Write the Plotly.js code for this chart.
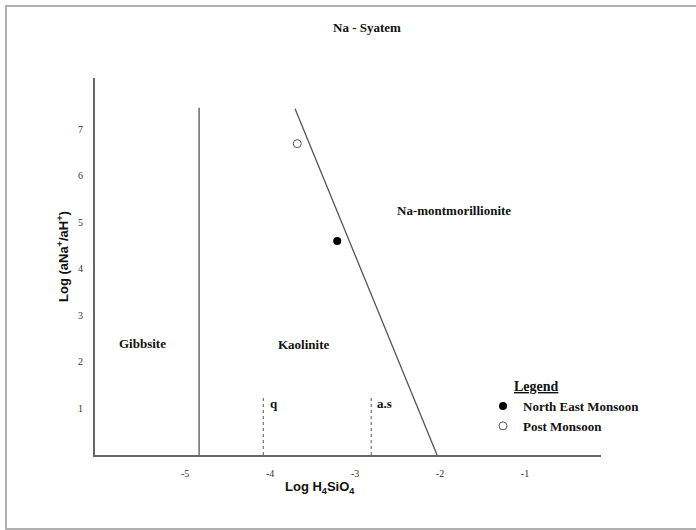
<!DOCTYPE html>
<html>
<head>
<meta charset="utf-8">
<script src="https://cdn.plot.ly/plotly-3.0.1.min.js"></script>
<style>html,body{margin:0;padding:0;background:#fff;}#chart{width:696px;height:530px;}</style>
</head>
<body>
<div id="chart"></div>
<script>
// Data
var seriesNames = ["North East Monsoon", "Post Monsoon"];
var neX = [-3.21], neY = [4.60];
var pmX = [-3.68], pmY = [6.69];
// Stability boundaries
var gibbsiteX = [-4.835, -4.835], gibbsiteY = [0, 7.46];
var montX = [-3.706, -2.035], montY = [7.44, 0];
var quartzX = [-4.08, -4.08], quartzY = [0, 1.23];
var amorphX = [-2.81, -2.81], amorphY = [0, 1.23];
var xTicks = [-5, -4, -3, -2, -1];
var yTicks = [1, 2, 3, 4, 5, 6, 7];
var fieldLabels = ["Gibbsite", "Kaolinite", "Na-montmorillionite", "q", "a.s"];
var fieldX = [-5.506, -3.6, -1.835, -4.02, -2.65];
var fieldY = [2.39, 2.37, 5.25, 1.10, 1.10];

var serif = "Liberation Serif, Times New Roman, serif";
var sans = "Liberation Sans, Arial, sans-serif";
var lineCol = "#555";

var traces = [
  {x: gibbsiteX, y: gibbsiteY, mode: "lines", line: {color: lineCol, width: 1.3}, showlegend: false, hoverinfo: "skip"},
  {x: montX, y: montY, mode: "lines", line: {color: lineCol, width: 1.3}, showlegend: false, hoverinfo: "skip"},
  {x: quartzX, y: quartzY, mode: "lines", line: {color: lineCol, width: 1, dash: "dot"}, showlegend: false, hoverinfo: "skip"},
  {x: amorphX, y: amorphY, mode: "lines", line: {color: lineCol, width: 1, dash: "dot"}, showlegend: false, hoverinfo: "skip"},
  {x: neX, y: neY, name: seriesNames[0], mode: "markers", marker: {symbol: "circle", size: 8, color: "#000"}},
  {x: pmX, y: pmY, name: seriesNames[1], mode: "markers", marker: {symbol: "circle", size: 8, color: "#fff", line: {color: "#555", width: 1}}}
];

var annotations = [];
for (var i = 0; i < fieldLabels.length; i++) {
  annotations.push({
    x: fieldX[i], y: fieldY[i], xref: "x", yref: "y", text: "<b>" + fieldLabels[i] + "</b>",
    showarrow: false, xanchor: fieldLabels[i] === "q" ? "left" : "center", yanchor: "middle",
    font: {family: serif, size: 13, color: "#111"}
  });
}
// axis titles placed to match reference
annotations.push({x: (320 - 95) / 506, y: (455 - 487) / 377, xref: "paper", yref: "paper",
  text: "<b>Log H<sub>4</sub>SiO<sub>4</sub></b>", showarrow: false, xanchor: "center", yanchor: "middle",
  font: {family: sans, size: 13, color: "#111"}});
annotations.push({x: (63 - 95) / 506, y: (455 - 257) / 377, xref: "paper", yref: "paper",
  text: "<b>Log (aNa<sup>+</sup>/aH<sup>+</sup>)</b>", showarrow: false, textangle: -90, xanchor: "center", yanchor: "middle",
  font: {family: sans, size: 13, color: "#111"}});
// legend heading
annotations.push({x: (536 - 95) / 506, y: (455 - 386) / 377, xref: "paper", yref: "paper",
  text: "<b><u>Legend</u></b>", showarrow: false, xanchor: "center", yanchor: "middle",
  font: {family: serif, size: 14, color: "#111"}});

var layout = {
  width: 696, height: 530,
  margin: {l: 95, r: 95, t: 78, b: 75, pad: 0},
  paper_bgcolor: "#fff", plot_bgcolor: "#fff",
  title: {text: "<b>Na - Syatem</b>", font: {family: serif, size: 13, color: "#111"},
    xref: "paper", x: (367 - 95) / 506, xanchor: "center", yref: "container", y: 1 - 27 / 530, yanchor: "middle"},
  xaxis: {range: [-6.06, -0.106], showgrid: false, zeroline: false, showline: true, linecolor: "#666", linewidth: 2,
    tickvals: xTicks, ticktext: xTicks.map(String), ticks: "", ticklabelstandoff: 8,
    tickfont: {family: serif, size: 10, color: "#333"}, fixedrange: true},
  yaxis: {range: [0, 8.1], showgrid: false, zeroline: false, showline: true, linecolor: "#666", linewidth: 2,
    tickvals: yTicks, ticktext: yTicks.map(String), ticks: "", ticklabelstandoff: 8,
    tickfont: {family: serif, size: 10, color: "#333"}, fixedrange: true},
  showlegend: true,
  legend: {x: (483 - 95) / 506, y: (455 - 391) / 377, xanchor: "left", yanchor: "top",
    bgcolor: "rgba(0,0,0,0)", borderwidth: 0, tracegroupgap: 0,
    font: {family: serif, size: 13, color: "#111", weight: "bold"}, itemwidth: 30},
  annotations: annotations,
  shapes: [{type: "rect", xref: "paper", yref: "paper",
    x0: (6 - 95) / 506, x1: (780 - 95) / 506, y0: (455 - 529) / 377, y1: (455 - 6) / 377,
    line: {color: "#b0b0b0", width: 2}, fillcolor: "rgba(0,0,0,0)", layer: "below"}]
};

Plotly.newPlot("chart", traces, layout, {displayModeBar: false, staticPlot: true});
</script>
</body>
</html>
